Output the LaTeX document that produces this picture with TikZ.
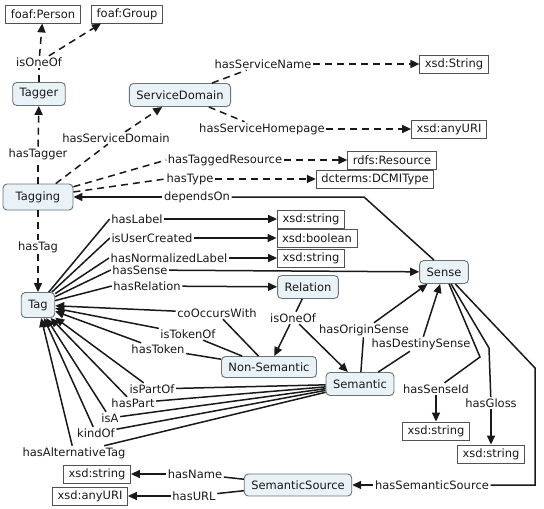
\documentclass[tikz,border=0pt]{standalone}
\usepackage{fontspec}
\setmainfont{DejaVu Sans}
\usetikzlibrary{arrows.meta}
\definecolor{conceptfill}{RGB}{233,242,246}
\definecolor{conceptline}{RGB}{105,115,120}
\definecolor{inkcol}{RGB}{25,25,25}

\begin{document}
\begin{tikzpicture}[
    x=1pt, y=-1pt,
    >={Triangle[length=9pt,width=8pt]},
    font=\fontsize{11.5}{13}\selectfont,
    concept/.style={rectangle, rounded corners=4pt, draw=conceptline, fill=conceptfill, line width=0.9pt, text=inkcol, inner xsep=7pt, minimum height=23pt},
    datatype/.style={rectangle, draw=inkcol!75, line width=0.9pt, text=inkcol, inner xsep=5pt, inner ysep=0pt, minimum height=18pt},
    link/.style={inner sep=1.5pt, text=inkcol},
    solidedge/.style={line width=1.5pt, inkcol},
    dashededge/.style={solidedge, dash pattern=on 7pt off 5pt}
]
\useasboundingbox (0,0) rectangle (544,509);

\node[datatype] (person) at (43,14) {foaf:Person};
\node[datatype] (group) at (127,14) {foaf:Group};
\node[link] (oneofA) at (39,62) {isOneOf};
\node[concept] (tagger) at (39,94) {Tagger};
\node[concept] (servdom) at (180,95) {ServiceDomain};
\node[link] (lServName) at (263,64) {hasServiceName};
\node[datatype] (string1) at (454,64) {xsd:String};
\node[link] (lServHome) at (262,129) {hasServiceHomepage};
\node[datatype] (uri1) at (449,129) {xsd:anyURI};
\node[link] (lServDom) at (116,138) {hasServiceDomain};
\node[link] (lHasTagger) at (38,154) {hasTagger};
\node[link] (lTaggedRes) at (225,160) {hasTaggedResource};
\node[datatype] (rdfsres) at (392,160) {rdfs:Resource};
\node[link] (lType) at (190,179) {hasType};
\node[datatype] (dcmi) at (375,179) {dcterms:DCMIType};
\node[concept, minimum width=70pt, minimum height=26pt] (tagging) at (38,197) {Tagging};
\node[link] (lDepends) at (197,197) {dependsOn};
\coordinate (bendD) at (364,197);
\node[link] (lHasTag) at (38,247) {hasTag};
\node[link] (lLabel) at (137,219) {hasLabel};
\node[datatype] (str2) at (311,219) {xsd:string};
\node[link] (lUserCreated) at (152,238) {isUserCreated};
\node[datatype] (bool) at (317,238) {xsd:boolean};
\node[link] (lNormLabel) at (169,258) {hasNormalizedLabel};
\node[datatype] (str3) at (311,258) {xsd:string};
\node[link] (lSense) at (140,270) {hasSense};
\node[concept] (sense) at (444,272) {Sense};
\node[link] (lRelation) at (147,286) {hasRelation};
\node[concept] (relation) at (308,287) {Relation};
\node[concept, minimum height=25pt] (tag) at (38,305) {Tag};
\node[link] (lCoOccurs) at (217,313) {coOccursWith};
\node[link] (lTokenOf) at (188,334) {isTokenOf};
\node[link] (oneofB) at (293,318) {isOneOf};
\node[link] (lOrigin) at (364,330) {hasOriginSense};
\node[link] (lDestiny) at (421,344) {hasDestinySense};
\node[link] (lToken) at (158,349) {hasToken};
\node[concept, minimum height=21pt] (nonsem) at (269,367) {Non-Semantic};
\node[concept] (sem) at (360,384) {Semantic};
\node[link] (lPartOf) at (152,389) {isPartOf};
\node[link] (lHasPart) at (133,403) {hasPart};
\node[link] (lIsA) at (110,418) {isA};
\node[link] (lKindOf) at (96,433) {kindOf};
\node[link] (lAltTag) at (74,453) {hasAlternativeTag};
\node[link] (lSenseId) at (436,389) {hasSenseId};
\node[link] (lGloss) at (491,403) {hasGloss};
\node[datatype] (str4) at (436,431) {xsd:string};
\node[datatype] (str5) at (491,454) {xsd:string};
\coordinate (bSenseId) at (480,357);
\coordinate (bGloss) at (489,348);
\coordinate (bSemSrc) at (535,368);
\coordinate (bSemSrcLow) at (535,485);
\node[link] (lSemSrc) at (432,485) {hasSemanticSource};
\node[concept, minimum height=22pt] (semsrc) at (298,485) {SemanticSource};
\node[link] (lName) at (195,474) {hasName};
\node[datatype] (str6) at (97,474) {xsd:string};
\node[link] (lURL) at (194,496) {hasURL};
\node[datatype] (uri2) at (90,496) {xsd:anyURI};

\draw[dashededge] (tagger) -- (oneofA);
\draw[dashededge, ->] (oneofA) -- (person);
\draw[dashededge, ->] (oneofA) -- (group.200);
\draw[dashededge] (tagging) -- (lHasTagger);
\draw[dashededge, ->] (lHasTagger) -- (tagger);
\draw[dashededge] (tagging) -- (lServDom);
\draw[dashededge, ->] (lServDom) -- (servdom);
\draw[dashededge] (servdom) -- (lServName);
\draw[dashededge, ->] (lServName) -- (string1);
\draw[dashededge] (servdom) -- (lServHome);
\draw[dashededge, ->] (lServHome) -- (uri1);
\draw[dashededge] (tagging) -- (lTaggedRes.west);
\draw[dashededge, ->] (lTaggedRes) -- (rdfsres);
\draw[dashededge] (tagging) -- (lType.west);
\draw[dashededge, ->] (lType) -- (dcmi);
\draw[dashededge] (tagging) -- (lHasTag);
\draw[dashededge, ->] (lHasTag) -- (tag);

\draw[solidedge] (sense.130) -- (bendD) -- (lDepends);
\draw[solidedge, ->] (lDepends) -- (tagging);

\draw[solidedge] (tag) -- (lLabel.west);
\draw[solidedge, ->] (lLabel) -- (str2);
\draw[solidedge] (tag) -- (lUserCreated.west);
\draw[solidedge, ->] (lUserCreated) -- (bool);
\draw[solidedge] (tag) -- (lNormLabel.west);
\draw[solidedge, ->] (lNormLabel) -- (str3);
\draw[solidedge] (tag) -- (lSense.west);
\draw[solidedge, ->] (lSense) -- (sense);
\draw[solidedge] (tag) -- (lRelation.west);
\draw[solidedge, ->] (lRelation) -- (relation);

\draw[solidedge] (nonsem) -- (lCoOccurs);
\draw[solidedge, ->] (lCoOccurs) -- (tag);
\draw[solidedge] (nonsem) -- (lTokenOf);
\draw[solidedge, ->] (lTokenOf) -- (tag);
\draw[solidedge] (nonsem) -- (lToken);
\draw[solidedge, ->] (lToken) -- (tag);

\draw[solidedge] (relation) -- (oneofB);
\draw[solidedge, ->] (oneofB) -- (nonsem);
\draw[solidedge, ->] (oneofB) -- (sem);

\draw[solidedge] (sem) -- (lOrigin);
\draw[solidedge, ->] (lOrigin) -- (sense);
\draw[solidedge] (sem) -- (lDestiny);
\draw[solidedge, ->] (lDestiny) -- (sense);

\draw[solidedge] (sem) -- (lPartOf);
\draw[solidedge, ->] (lPartOf) -- (tag);
\draw[solidedge] (sem) -- (lHasPart);
\draw[solidedge, ->] (lHasPart) -- (tag);
\draw[solidedge] (sem) -- (lIsA);
\draw[solidedge, ->] (lIsA) -- (tag);
\draw[solidedge] (sem) -- (lKindOf);
\draw[solidedge, ->] (lKindOf) -- (tag);
\draw[solidedge] (sem) -- (lAltTag);
\draw[solidedge, ->] (lAltTag) -- (tag);

\draw[solidedge] (sense) -- (bSenseId) -- (lSenseId);
\draw[solidedge, ->] (lSenseId) -- (str4);
\draw[solidedge] (sense) -- (bGloss) -- (lGloss);
\draw[solidedge, ->] (lGloss) -- (str5);
\draw[solidedge] (sense) -- (bSemSrc) -- (bSemSrcLow) -- (lSemSrc);
\draw[solidedge, ->] (lSemSrc) -- (semsrc);

\draw[solidedge] (semsrc) -- (lName);
\draw[solidedge, ->] (lName) -- (str6);
\draw[solidedge] (semsrc) -- (lURL);
\draw[solidedge, ->] (lURL) -- (uri2);

\end{tikzpicture}
\end{document}
